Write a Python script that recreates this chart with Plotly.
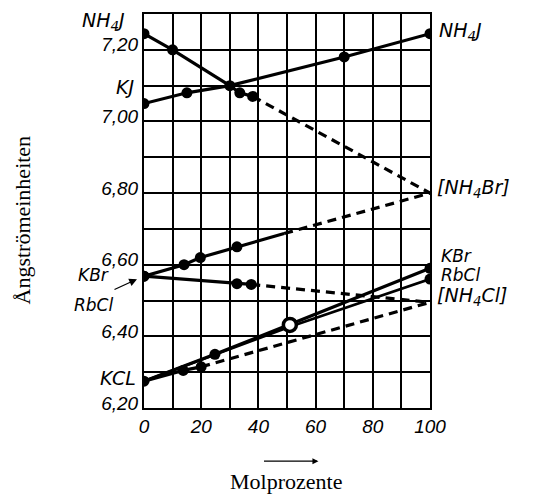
import plotly.graph_objects as go

# ---------------- data ----------------
# NH4J -> [NH4Br] branch (descending from NH4J at 0 %)
nh4j_x = [0, 10, 30, 33.5, 38]
nh4j_y = [7.245, 7.20, 7.10, 7.08, 7.07]
nh4j_dash_x = [38, 100]
nh4j_dash_y = [7.07, 6.80]

# KJ -> NH4J
kj_x = [0, 15, 30, 70, 100]
kj_y = [7.05, 7.08, 7.10, 7.18, 7.245]

# KBr -> [NH4Br]
kbr_up_x = [0, 14, 19.7, 32.5]
kbr_up_y = [6.568, 6.60, 6.62, 6.65]
kbr_up_line_x = [0, 14, 19.7, 32.5, 49]
kbr_up_line_y = [6.568, 6.60, 6.62, 6.65, 6.687]
kbr_up_dash_x = [49, 100]
kbr_up_dash_y = [6.687, 6.80]

# KBr -> [NH4Cl]
kbr_dn_x = [0, 32.5, 37.5]
kbr_dn_y = [6.568, 6.547, 6.545]
kbr_dn_dash_x = [37.5, 100]
kbr_dn_dash_y = [6.545, 6.495]

# KCl -> KBr
kcl_kbr_x = [0, 24.8, 100]
kcl_kbr_y = [6.275, 6.35, 6.59]

# KCl -> RbCl
kcl_rbcl_x = [0, 51, 100]
kcl_rbcl_y = [6.275, 6.427, 6.56]

# KCl -> [NH4Cl]
kcl_nh4_x = [0, 13.7, 20]
kcl_nh4_y = [6.275, 6.305, 6.315]
kcl_nh4_dash_x = [20, 100]
kcl_nh4_dash_y = [6.315, 6.495]

# open circle
open_x = [51]
open_y = [6.432]

x_grid = [0, 10, 20, 30, 40, 50, 60, 70, 80, 90, 100]
x_ticks = [0, 20, 40, 60, 80, 100]
x_ticktext = ["0", "20", "40", "60", "80", "100"]
y_grid = [6.2, 6.3, 6.4, 6.5, 6.6, 6.7, 6.8, 6.9, 7.0, 7.1, 7.2, 7.3]
y_ticks = [6.2, 6.4, 6.6, 6.8, 7.0, 7.2]
y_ticktext = ["6,20", "6,40", "6,60", "6,80", "7,00", "7,20"]

# ---------------- figure ----------------
BLACK = "#000000"
LW = 3.2
DASH = "9px,6px"
fig = go.Figure()


def line(x, y, dash="solid", width=LW):
    fig.add_trace(go.Scatter(x=x, y=y, mode="lines",
                             line=dict(color=BLACK, width=width, dash=dash),
                             hoverinfo="skip", showlegend=False))


def dots(x, y):
    fig.add_trace(go.Scatter(x=x, y=y, mode="markers",
                             marker=dict(color=BLACK, size=11, symbol="circle"),
                             hoverinfo="skip", showlegend=False))


line(nh4j_x, nh4j_y)
line(nh4j_dash_x, nh4j_dash_y, DASH)
line(kj_x, kj_y)
line(kbr_up_line_x, kbr_up_line_y)
line(kbr_up_dash_x, kbr_up_dash_y, DASH)
line(kbr_dn_x, kbr_dn_y)
line(kbr_dn_dash_x, kbr_dn_dash_y, DASH)
line(kcl_kbr_x, kcl_kbr_y)
line(kcl_rbcl_x, kcl_rbcl_y, width=2.6)
line(kcl_nh4_x, kcl_nh4_y)
line(kcl_nh4_dash_x, kcl_nh4_dash_y, DASH)

dots([nh4j_x[0], nh4j_x[1], nh4j_x[3], nh4j_x[4]],
     [nh4j_y[0], nh4j_y[1], nh4j_y[3], nh4j_y[4]])
dots(kj_x, kj_y)
dots(kbr_up_x, kbr_up_y)
dots(kbr_dn_x, kbr_dn_y)
dots(kcl_kbr_x, kcl_kbr_y)
dots([kcl_rbcl_x[-1]], [kcl_rbcl_y[-1]])
dots(kcl_nh4_x[1:], kcl_nh4_y[1:])

fig.add_trace(go.Scatter(x=open_x, y=open_y, mode="markers",
                         marker=dict(color="white", size=13, symbol="circle",
                                     line=dict(color=BLACK, width=3.5)),
                         hoverinfo="skip", showlegend=False))

LBL = dict(family="DejaVu Sans", size=19, color=BLACK)
LBL_SMALL = dict(family="DejaVu Sans", size=17, color=BLACK)
TICK = dict(family="Liberation Sans Narrow, Liberation Sans", size=19, color=BLACK)
SERIF = dict(family="Liberation Serif", size=22, color=BLACK)


def label(text, x, y, anchor, font=LBL):
    fig.add_annotation(text="<i>" + text + "</i>", x=x, y=y, xref="paper", yref="paper",
                       showarrow=False, xanchor=anchor, yanchor="middle", font=font)


# left-side labels
label("NH<sub>4</sub>J", -0.060, 0.982, "right")
label("KJ", -0.028, 0.815, "right")
label("KBr", -0.114, 0.338, "right", LBL_SMALL)
label("RbCl", -0.100, 0.262, "right", LBL_SMALL)
label("KCL", -0.022, 0.076, "right")
# right-side labels
label("NH<sub>4</sub>J", 1.024, 0.955, "left")
label("[NH<sub>4</sub>Br]", 1.018, 0.558, "left")
label("KBr", 1.030, 0.385, "left", LBL_SMALL)
label("RbCl", 1.030, 0.338, "left", LBL_SMALL)
label("[NH<sub>4</sub>Cl]", 1.016, 0.282, "left")

# RbCl arrow
fig.add_annotation(text="", x=-0.0245, y=0.327, xref="paper", yref="paper", showarrow=True,
                   ax=-24, ay=11, arrowhead=2, arrowsize=1.2, arrowwidth=1.3,
                   arrowcolor=BLACK)

# axis titles
fig.add_annotation(text="Ångströmeinheiten", x=-0.425, y=0.477, xref="paper", yref="paper",
                   xanchor="center", yanchor="middle",
                   showarrow=False, textangle=-90, font=SERIF)
fig.add_annotation(text="Molprozente", x=0.497, y=-0.186, xref="paper", yref="paper",
                   xanchor="center", yanchor="middle",
                   showarrow=False, font=SERIF)
fig.add_annotation(text="", x=0.610, y=-0.135, xref="paper", yref="paper", showarrow=True,
                   ax=-56, ay=0, arrowhead=2, arrowsize=1, arrowwidth=1.2,
                   arrowcolor=BLACK)

fig.update_layout(
    width=542, height=496, autosize=False,
    margin=dict(l=144, r=112, t=14, b=88),
    paper_bgcolor="white", plot_bgcolor="white",
    xaxis=dict(range=[0, 100], tickvals=x_ticks,
               ticktext=["<i>%s</i>" % t for t in x_ticktext],
               showgrid=False,
               minor=dict(tickvals=x_grid, showgrid=True, gridcolor=BLACK, gridwidth=1.8, ticks=""),
               showline=True, linecolor=BLACK, linewidth=2, mirror=True,
               ticks="", tickfont=TICK, zeroline=False),
    yaxis=dict(range=[6.2, 7.3], tickvals=[v + 0.014 for v in y_ticks],
               ticktext=["<i>%s</i>" % t for t in y_ticktext],
               showgrid=False,
               minor=dict(tickvals=y_grid, showgrid=True, gridcolor=BLACK, gridwidth=1.8, ticks=""),
               showline=True, linecolor=BLACK, linewidth=2, mirror=True,
               ticks="", tickfont=TICK, zeroline=False),
)

fig.write_html("out.html", config={"displayModeBar": False},
               post_script="document.body.style.margin='0';")
